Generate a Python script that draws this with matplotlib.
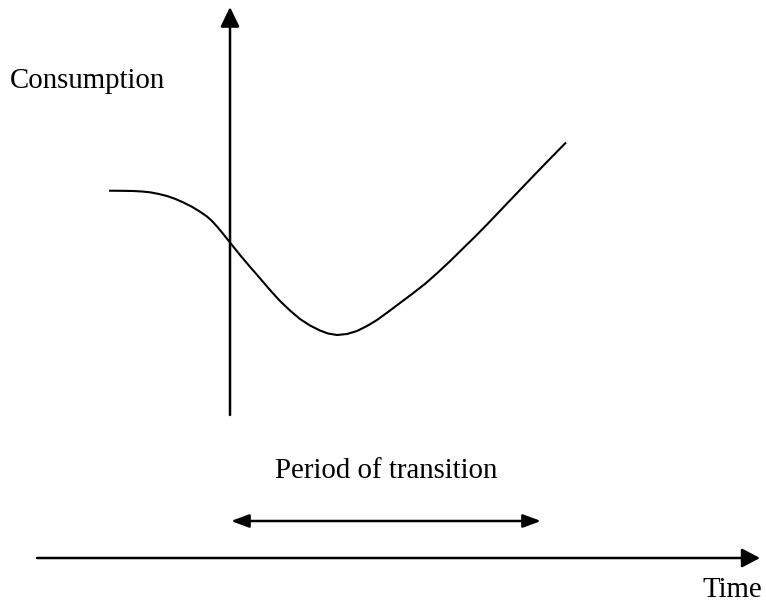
import matplotlib.pyplot as plt
from matplotlib.patches import FancyArrowPatch

plt.rcParams['font.family'] = ['Liberation Serif', 'DejaVu Serif']

# canvas is laid out in pixel units (origin top-left) to follow the sketch
W, H = 766, 605

# consumption curve
curve_x = [109, 120, 133, 142, 150, 158, 167, 175, 183, 192, 200, 207, 212,
           217, 222, 228, 234, 240, 250, 260, 270, 280, 290, 300, 310, 320,
           328, 337, 347, 357, 367, 377, 388, 400, 412, 425, 437, 450, 462,
           475, 487, 500, 512, 525, 537, 550, 566]
curve_y = [190.7, 190.8, 191.0, 191.5, 192.3, 193.8, 196.0, 198.8, 202.3, 206.8,
           211.7, 216.5, 221.0, 226.5, 232.5, 240.0, 247.5, 255.0, 266.8, 278.3,
           290.0, 301.0, 310.5, 319.0, 325.5, 330.5, 333.5, 335.0, 334.0, 331.0,
           326.0, 320.0, 312.0, 303.0, 294.0, 283.9, 273.3, 261.2, 249.4, 236.7,
           224.5, 210.9, 198.3, 184.7, 172.2, 158.8, 142.5]

# axes / arrows: (x0, y0, x1, y1)
y_axis = (230, 415, 230, 7)
x_axis = (37, 558, 760, 558)
period = (231, 521, 541, 521)

# label, x, baseline y, alignment
labels = [
    ("Consumption", 10, 88, "left"),
    ("Period of transition", 275, 478, "left"),
    ("Time", 762, 597, "right"),
]

fig = plt.figure(figsize=(W / 100, H / 100), dpi=100)
ax = fig.add_axes([0, 0, 1, 1])
ax.set_xlim(0, W)
ax.set_ylim(H, 0)
ax.axis("off")

ax.plot(curve_x, curve_y, color="black", lw=1.5, solid_joinstyle="round",
        solid_capstyle="butt")


def arrow(seg, style, lw):
    x0, y0, x1, y1 = seg
    p = FancyArrowPatch((x0, y0), (x1, y1), arrowstyle=style, mutation_scale=1,
                        shrinkA=0, shrinkB=0, color="black", lw=lw)
    ax.add_patch(p)


arrow(y_axis, "-|>,head_length=12,head_width=5.8", 1.8)
arrow(x_axis, "-|>,head_length=11,head_width=5.8", 1.8)
arrow(period, "<|-|>,head_length=10.8,head_width=4", 1.8)

for text, tx, ty, ha in labels:
    ax.text(tx, ty, text, fontsize=20.8, ha=ha, va="baseline", color="black")

fig.savefig("out.png", dpi=100)
